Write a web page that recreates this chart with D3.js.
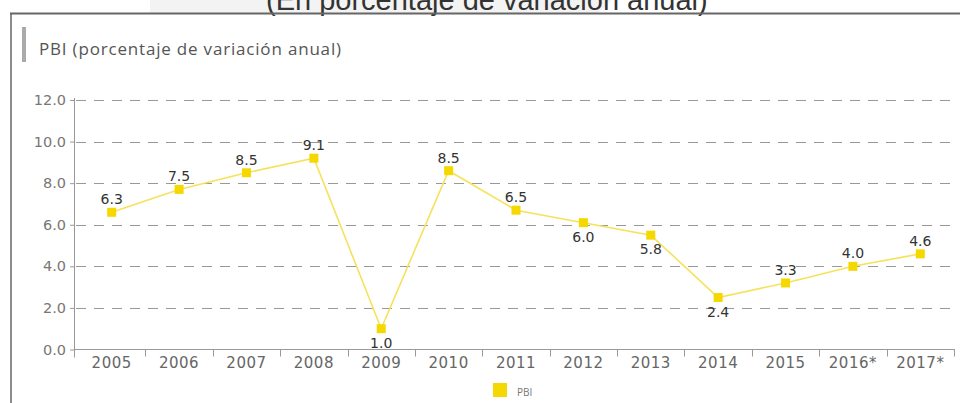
<!DOCTYPE html>
<html>
<head>
<meta charset="utf-8">
<script src="https://cdn.jsdelivr.net/npm/d3@7"></script>
<style>
  html, body { margin: 0; padding: 0; background: #fff; }
  svg { display: block; }
</style>
</head>
<body>
<svg id="chart" width="960" height="403"></svg>
<script>
// ---- data ----
const categories = ["2005","2006","2007","2008","2009","2010","2011","2012","2013","2014","2015","2016*","2017*"];
const values = [6.6, 7.7, 8.5, 9.2, 1.0, 8.6, 6.7, 6.1, 5.5, 2.5, 3.2, 4.0, 4.6];
const valueLabels = ["6.3","7.5","8.5","9.1","1.0","8.5","6.5","6.0","5.8","2.4","3.3","4.0","4.6"];
const labelPlacement = ["top","top","top","top","bottom","top","top","bottom","bottom","bottom","top","top","top"];
const yTicks = [0, 2, 4, 6, 8, 10, 12];
const seriesName = "PBI";
const chartTitle = "PBI (porcentaje de variación anual)";
const pageHeading = "(En porcentaje de variación anual)";

(function () {
const svg = d3.select("#chart");
const tickFont = "'DejaVu Sans', Verdana, sans-serif";

// faint watermark band behind heading
svg.append("polygon")
  .attr("points", "150,0 612,0 598,13 150,13")
  .attr("fill", "#f3f3f3");

// page heading (partly cut at the top edge, as in the source image)
svg.append("text")
  .attr("x", 266).attr("y", 10)
  .attr("font-family", "'Liberation Sans', Arial, sans-serif")
  .attr("font-size", 29)
  .attr("fill", "#333")
  .text(pageHeading);

// frame
svg.append("line").attr("x1", 10).attr("x2", 960).attr("y1", 13.5).attr("y2", 13.5)
  .attr("stroke", "#666").attr("stroke-width", 2);
svg.append("line").attr("x1", 11).attr("x2", 11).attr("y1", 13).attr("y2", 403)
  .attr("stroke", "#666").attr("stroke-width", 1.5);

// title bar + title
svg.append("rect").attr("x", 22).attr("y", 27).attr("width", 4).attr("height", 35).attr("fill", "#aaa");
svg.append("text")
  .attr("x", 39).attr("y", 55)
  .attr("font-family", "'Open Sans', sans-serif")
  .attr("font-size", 17)
  .attr("textLength", 302)
  .attr("lengthAdjust", "spacing")
  .attr("fill", "#555")
  .text(chartTitle);

const pLeft = 74, pRight = 955, pTop = 100, pBottom = 349.5;
const x = d3.scaleBand().domain(categories).range([78, 954]).padding(0);
const y = d3.scaleLinear().domain([0, 12]).range([pBottom, pTop]);

// grid
svg.append("g").selectAll("line")
  .data(yTicks.filter(d => d > 0))
  .join("line")
  .attr("x1", pLeft + 2).attr("x2", pRight)
  .attr("y1", d => Math.round(y(d)) + 0.5).attr("y2", d => Math.round(y(d)) + 0.5)
  .attr("stroke", "#999").attr("stroke-width", 1)
  .attr("stroke-dasharray", "10,8");

// y axis
const yAxis = d3.axisLeft(y).tickValues(yTicks).tickFormat(d3.format(".1f")).tickSize(4).tickPadding(4);
const gy = svg.append("g").attr("transform", `translate(${pLeft},0)`).call(yAxis);
gy.select(".domain").remove();
gy.selectAll(".tick line").attr("stroke", "#999");
gy.selectAll(".tick text").attr("font-family", tickFont).attr("font-size", 14.5).attr("fill", "#777");
svg.append("line").attr("x1", pLeft + 0.5).attr("x2", pLeft + 0.5).attr("y1", pTop - 2).attr("y2", pBottom + 8)
  .attr("stroke", "#999").attr("stroke-width", 1);

// x axis
svg.append("line").attr("x1", pLeft).attr("x2", pRight).attr("y1", pBottom).attr("y2", pBottom)
  .attr("stroke", "#999").attr("stroke-width", 1);
const gx = svg.append("g").attr("transform", `translate(0,${pBottom})`)
  .call(d3.axisBottom(x).tickSize(0).tickPadding(8));
gx.select(".domain").remove();
gx.selectAll(".tick text").attr("font-family", tickFont).attr("font-size", 15)
  .attr("letter-spacing", "0.5px").attr("fill", "#666");
// separators between categories
svg.append("g").selectAll("line")
  .data(categories)
  .join("line")
  .attr("x1", d => Math.round(x(d) + x.bandwidth()) + 0.5)
  .attr("x2", d => Math.round(x(d) + x.bandwidth()) + 0.5)
  .attr("y1", pBottom).attr("y2", pBottom + 7)
  .attr("stroke", "#999");

// line
const cx = d => x(d) + x.bandwidth() / 2;
const line = d3.line().x((d, i) => cx(categories[i])).y(d => y(d));
svg.append("path").datum(values)
  .attr("d", line)
  .attr("fill", "none")
  .attr("stroke", "#f6e25a")
  .attr("stroke-width", 1.6);

// markers
const ms = 9;
svg.append("g").selectAll("rect")
  .data(values)
  .join("rect")
  .attr("x", (d, i) => cx(categories[i]) - ms / 2)
  .attr("y", d => y(d) - ms / 2)
  .attr("width", ms).attr("height", ms)
  .attr("fill", "#f5d800");

// data labels
svg.append("g").selectAll("text")
  .data(values)
  .join("text")
  .attr("x", (d, i) => cx(categories[i]))
  .attr("y", (d, i) => labelPlacement[i] === "top" ? y(d) - 8 : y(d) + 19)
  .attr("text-anchor", "middle")
  .attr("font-family", tickFont)
  .attr("font-size", 14)
  .attr("fill", "#333")
  .text((d, i) => valueLabels[i]);

// legend
svg.append("rect").attr("x", 493).attr("y", 383).attr("width", 14).attr("height", 14).attr("fill", "#f5d800");
svg.append("text").attr("x", 517).attr("y", 396)
  .attr("font-family", "'Open Sans', sans-serif").attr("font-size", 10).attr("fill", "#777")
  .text(seriesName);
})();
</script>
</body>
</html>
